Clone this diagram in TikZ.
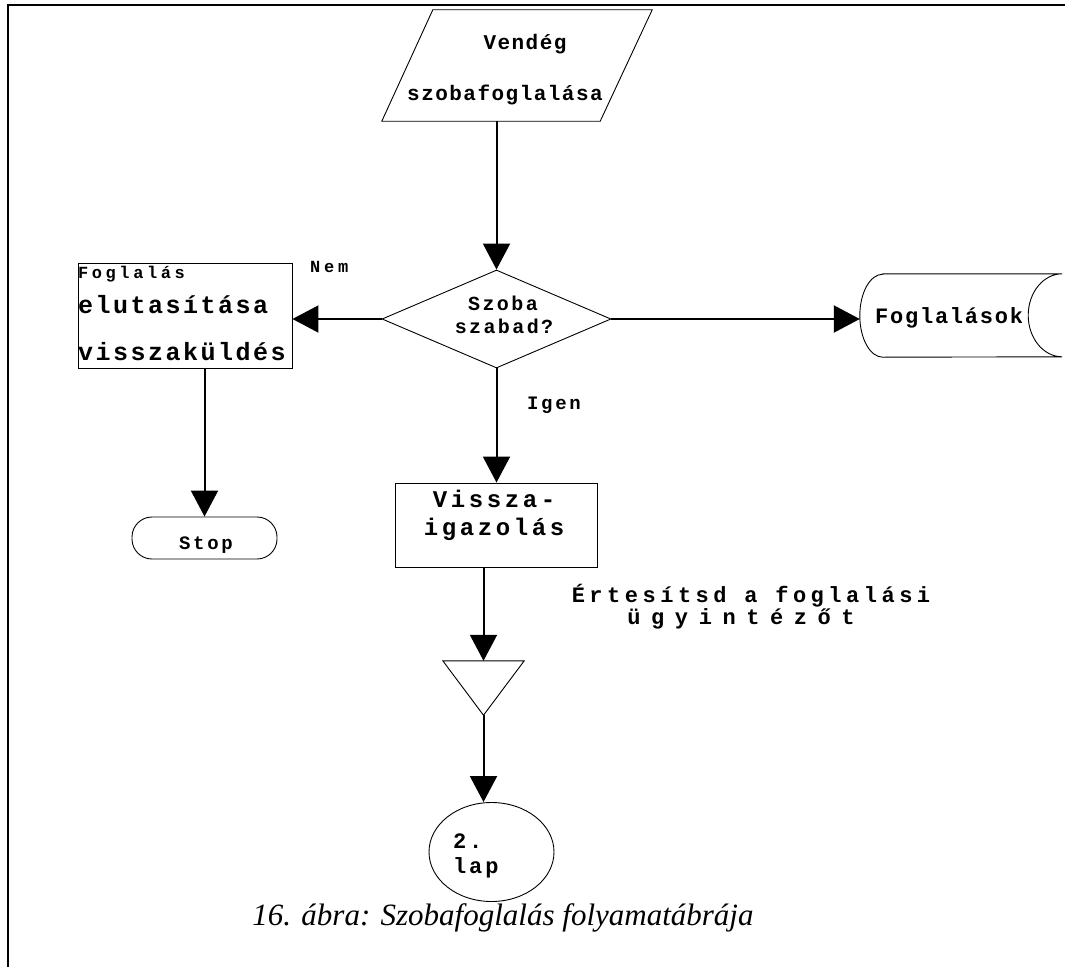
\documentclass[tikz,border=0pt]{standalone}
\usepackage{fontspec}
\usetikzlibrary{arrows.meta,shapes.geometric}
\newfontfamily\flowmono{Liberation Mono}
\newfontfamily\flowserif{Liberation Serif}

\tikzset{
  mtxt/.style 2 args={font=\flowmono\bfseries\fontsize{#1}{#1}\selectfont\addfontfeature{LetterSpace=#2},
    inner sep=0pt},
  box/.style={draw, line width=0.9pt, inner sep=0pt},
  outline/.style={line width=0.9pt, line join=miter},
  flow/.style={line width=2pt, -{Triangle[length=26pt,width=27pt]}},
  frame/.style={line width=2pt},
}

\begin{document}
\begin{tikzpicture}[x=1pt,y=-1pt]
\useasboundingbox (0,0) rectangle (1065,966);

% page frame
\draw[frame] (1066,5) -- (7.5,5) -- (7.5,967);

% input: guest's booking request (parallelogram)
\node[inner sep=0pt, minimum width=270pt, minimum height=111pt] (guest) at (517,65.5) {};
\draw[outline] (guest.south west) -- ([xshift=-52pt]guest.south east)
  -- (guest.north east) -- ([xshift=51pt]guest.north west) -- cycle;
\node[mtxt={21}{7}, anchor=base] (guest-l1) at (525,50) {Vendég};
\node[mtxt={21}{7}, anchor=base] (guest-l2) at (505,100) {szobafoglalása};

% decision
\node[draw, diamond, line width=0.9pt, aspect=2.3, inner sep=0pt,
      minimum width=229pt, minimum height=98pt] (check) at (496.5,319) {};
\node[mtxt={20}{12}, anchor=base] (check-l1) at (503,310) {Szoba};
\node[mtxt={20}{12}, anchor=base] (check-l2) at (504,333) {szabad?};

% rejection
\node[box, minimum width=214pt, minimum height=105pt] (reject) at (185,315.5) {};
\node[mtxt={17}{21}, anchor=base west] (reject-l1) at (78,278) {Foglalás};
\node[mtxt={25}{10}, anchor=base west] (reject-l2) at (78,313) {elutasítása};
\node[mtxt={25}{10}, anchor=base west] (reject-l3) at (78,360) {visszaküldés};
\node[mtxt={17}{22}, anchor=base west] (no) at (310,272) {Nem};

% stored bookings
\node[inner sep=0pt, minimum width=202pt, minimum height=83pt] (store) at (961,315.5) {};
\draw[outline] ([xshift=23pt]store.north west) -- (store.north east)
  arc[start angle=90, end angle=270, x radius=34pt, y radius=41.5pt]
  -- ([xshift=23pt]store.south west)
  arc[start angle=270, end angle=90, x radius=23pt, y radius=41.5pt] -- cycle;
\node[mtxt={22}{8}, anchor=base west] (store-l1) at (875,323) {Foglalások};

\node[mtxt={19}{14}, anchor=base west] (yes) at (527,409) {Igen};

% confirmation
\node[box, minimum width=202pt, minimum height=84pt] (confirm) at (496,525) {};
\node[mtxt={24}{15}, anchor=base] (confirm-l1) at (494,507) {Vissza-};
\node[mtxt={24}{15}, anchor=base] (confirm-l2) at (494,535) {igazolás};

% terminator
\node[box, rounded corners=20pt, minimum width=145pt, minimum height=42pt] (stop) at (204.5,538) {};
\node[mtxt={19}{14}, anchor=base] (stop-l1) at (206,549) {Stop};

% note
\node[mtxt={22}{20.5}, anchor=base] (note-l1) at (751,602) {Értesítsd a foglalási};
\node[mtxt={22}{48}, anchor=base] (note-l2) at (741,624) {ügyintézőt};

% merge triangle
\node[inner sep=0pt, minimum width=81pt, minimum height=54pt] (merge) at (483.5,688) {};
\draw[outline] (merge.north west) -- (merge.north east) -- (merge.south) -- cycle;

% off-page connector
\node[draw, ellipse, line width=0.9pt, inner sep=0pt,
      minimum width=125pt, minimum height=99pt] (page) at (491.5,852) {};
\node[mtxt={22}{13}, anchor=base west] (page-l1) at (453,848) {2.};
\node[mtxt={22}{13}, anchor=base west] (page-l2) at (453,873) {lap};

% caption
\node[font=\flowserif\itshape\fontsize{31}{31}\selectfont, inner sep=0pt, anchor=base]
  (caption) at (503,925) {16. ábra: Szobafoglalás folyamatábrája};

% connectors
\draw[flow] (check.north |- guest.south) -- (check.north);
\draw[flow] (check.west) -- (check.west -| reject.east);
\draw[flow] (check.east) -- (check.east -| store.west);
\draw[flow] (check.south) -- (check.south |- confirm.north);
\draw[flow] (stop.north |- reject.south) -- (stop.north);
\draw[flow] (merge.north |- confirm.south) -- (merge.north);
\draw[flow] (merge.south) -- (merge.south |- page.north);
\end{tikzpicture}
\end{document}
